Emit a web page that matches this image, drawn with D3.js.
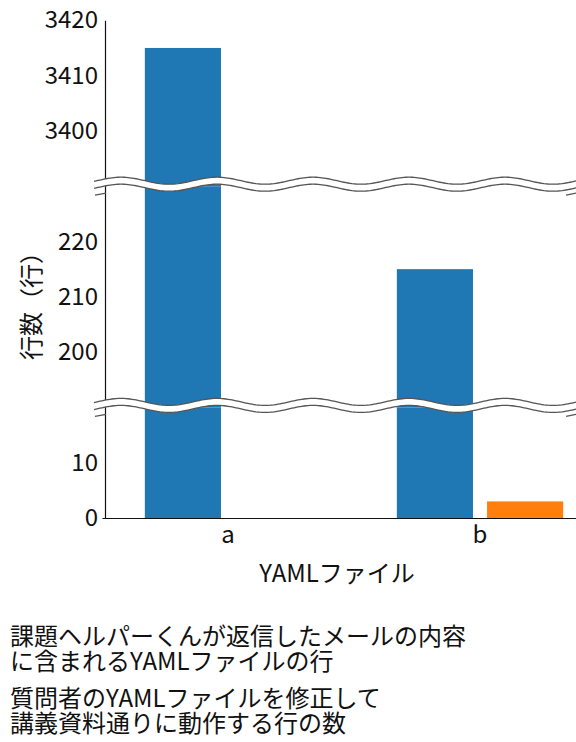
<!DOCTYPE html>
<html>
<head>
<meta charset="utf-8">
<script src="https://cdn.jsdelivr.net/npm/d3@7"></script>
<style>
  body { margin: 0; background: #fff; }
  svg text { font-family: "Noto Sans CJK JP", "Noto Sans", sans-serif; fill: #111; }
</style>
</head>
<body>
<div id="chart"></div>
<script>
// data
var categories = ["a", "b"];
var seriesNames = ["helper", "fixed"];
var helperLines = [3415, 215];   // 課題ヘルパーくんが返信したメールの内容に含まれるYAMLファイルの行
var fixedLines = [0, 3];         // 質問者のYAMLファイルを修正して講義資料通りに動作する行の数
var colors = ["#1f77b4", "#ff7f0e"];
// broken y axis segments (bottom to top)
var segDomains = [[0, 20], [190, 230], [3390, 3420]];
var segTicks = [[0, 10], [200, 210, 220], [3400, 3410, 3420]];
var legendLines = [
    ["課題ヘルパーくんが返信したメールの内容", "に含まれるYAMLファイルの行"],
    ["質問者のYAMLファイルを修正して", "講義資料通りに動作する行の数"]
];

var width = 576, height = 742;
var marginLeft = 105, axisBottom = 518, axisTop = 20.3;
var fs = 24;

var svg = d3.select("#chart").append("svg")
    .attr("width", width)
    .attr("height", height);

// pixels per unit, same in every segment
var totalUnits = d3.sum(segDomains, function (d) { return d[1] - d[0]; });
var k = (axisBottom - axisTop) / totalUnits;

var segs = [];
var yStart = axisBottom;
segDomains.forEach(function (dom, i) {
    var h = (dom[1] - dom[0]) * k;
    var sc = d3.scaleLinear().domain(dom).range([yStart, yStart - h]);
    segs.push({ scale: sc, y0: yStart - h, y1: yStart, ticks: segTicks[i] });
    yStart -= h;
});

// x scales
var x0 = d3.scaleBand().domain(categories).range([102, 606]).padding(0);
var bw = x0.bandwidth();
var x1 = d3.scaleBand().domain(seriesNames)
    .range([bw * 0.17, bw * 0.83]).paddingInner(0.156).paddingOuter(0);

var data = categories.map(function (c, i) {
    return { cat: c, vals: [helperLines[i], fixedLines[i]] };
});

// bars, one clip per segment
segs.forEach(function (s, si) {
    svg.append("clipPath").attr("id", "clip" + si)
        .append("rect")
        .attr("x", marginLeft).attr("y", s.y0)
        .attr("width", width - marginLeft).attr("height", s.y1 - s.y0);
    var g = svg.append("g").attr("clip-path", "url(#clip" + si + ")");
    data.forEach(function (d) {
        d.vals.forEach(function (v, j) {
            if (v <= s.scale.domain()[0]) return;
            var yv = s.scale(v);
            g.append("rect")
                .attr("x", x0(d.cat) + x1(seriesNames[j]))
                .attr("width", x1.bandwidth())
                .attr("y", yv)
                .attr("height", s.y1 - yv + 1)
                .attr("fill", colors[j]);
        });
    });
});

// y axes
segs.forEach(function (s) {
    var ax = svg.append("g")
        .attr("transform", "translate(" + marginLeft + ",0)")
        .call(d3.axisLeft(s.scale).tickValues(s.ticks).tickFormat(d3.format("d"))
            .tickSize(0).tickSizeOuter(0).tickPadding(7));
    ax.select(".domain").attr("stroke", "#111").attr("stroke-width", 1.2);
    ax.selectAll("text").style("font-size", fs + "px").style("font-family", '"Noto Sans CJK JP"').attr("fill", "#111");
});

// x axis
var xax = svg.append("g")
    .attr("transform", "translate(0," + axisBottom + ")")
    .call(d3.axisBottom(x0).tickSize(0).tickSizeOuter(0).tickPadding(8));
xax.select(".domain").attr("stroke", "#111").attr("stroke-width", 1.2);
xax.selectAll("text").style("font-size", fs + "px").style("font-family", '"Noto Sans CJK JP"').attr("fill", "#111");

// wavy break marks between segments
function wave(cy, off) {
    return d3.range(94, 600, 2).map(function (x) {
        return [x, cy + off - 3.5 * Math.cos(2 * Math.PI * (x - 121) / 96)];
    });
}
var line = d3.line();
for (var b = 1; b < segs.length; b++) {
    var cy = segs[b].y1 - 2;
    var up = wave(cy, -3.5), lo = wave(cy, 3.5);
    svg.append("path")
        .attr("d", line(up.concat(lo.slice().reverse())) + "Z")
        .attr("fill", "#fff");
    [up, lo].forEach(function (p) {
        svg.append("path").attr("d", line(p))
            .attr("fill", "none").attr("stroke", "#555").attr("stroke-width", 1.3);
    });
    // small stubs at the ends
    svg.append("path").attr("d", line([[95, cy + 11], [106, cy + 9]]))
        .attr("stroke", "#555").attr("stroke-width", 1.2);
    svg.append("path").attr("d", line([[566, cy + 11], [576, cy + 9]]))
        .attr("stroke", "#555").attr("stroke-width", 1.2);
}

// axis titles
svg.append("text")
    .attr("x", 337).attr("y", 582)
    .attr("text-anchor", "middle")
    .style("font-size", fs + "px")
    .text("YAMLファイル");

svg.append("text")
    .attr("transform", "translate(40,300) rotate(-90)")
    .attr("text-anchor", "middle")
    .style("font-size", fs + "px")
    .text("行数（行）");

// legend (text only)
var legY = [645, 707];
legendLines.forEach(function (ls, i) {
    var t = svg.append("text").attr("x", 10).attr("y", legY[i]).style("font-size", fs + "px");
    ls.forEach(function (l, j) {
        t.append("tspan").attr("x", 10).attr("dy", j === 0 ? 0 : 25).text(l);
    });
});
</script>
</body>
</html>
